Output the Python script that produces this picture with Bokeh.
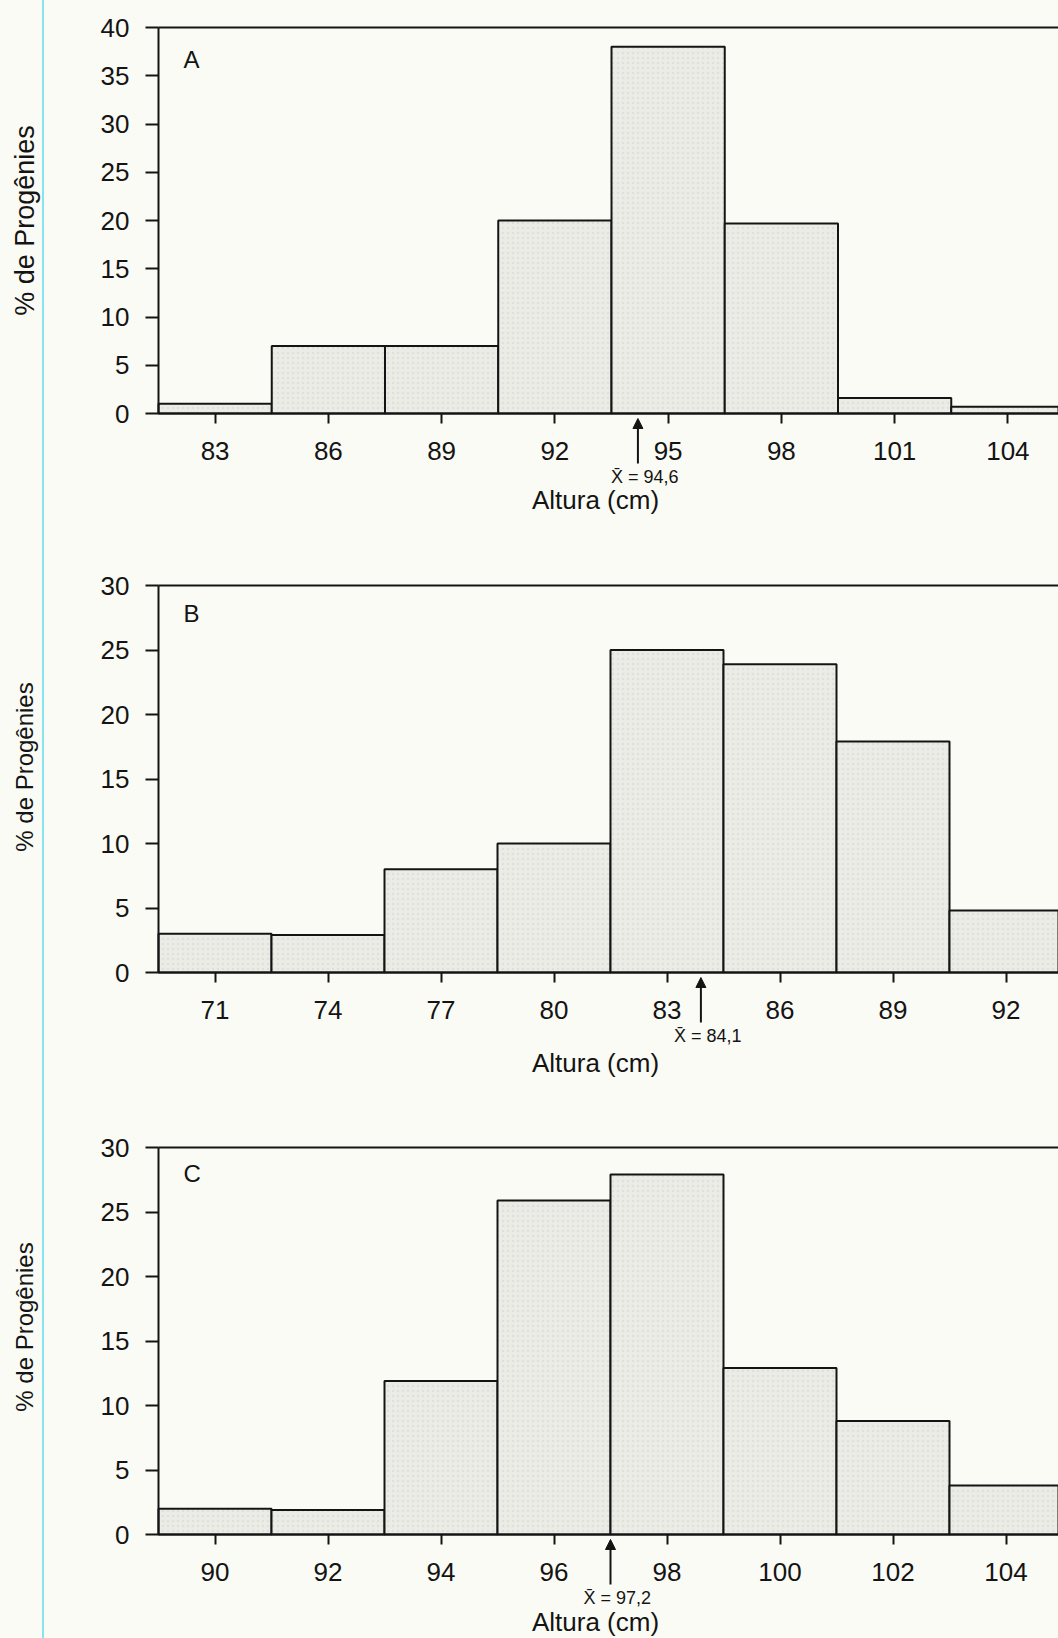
import math
from bokeh.plotting import figure
from bokeh.models import Range1d, FixedTicker, LinearAxis, Arrow, NormalHead, Label
from bokeh.layouts import column
from bokeh.embed import file_html
from bokeh.resources import INLINE

# ---------------- data ----------------
a_centers = [83, 86, 89, 92, 95, 98, 101, 104]
a_pct = [1, 7, 7, 20, 38, 19.7, 1.6, 0.7]
a_mean_pos = 94.2
a_mean_text = "X\u0304 = 94,6"

b_centers = [71, 74, 77, 80, 83, 86, 89, 92]
b_pct = [3, 2.9, 8, 10, 25, 23.9, 17.9, 4.8]
b_mean_pos = 83.9
b_mean_text = "X\u0304 = 84,1"

c_centers = [90, 92, 94, 96, 98, 100, 102, 104]
c_pct = [2, 1.9, 11.9, 25.9, 27.9, 12.9, 8.8, 3.8]
c_mean_pos = 97.0
c_mean_text = "X\u0304 = 97,2"

y_ticks_a = [0, 5, 10, 15, 20, 25, 30, 35, 40]
y_ticks_bc = [0, 5, 10, 15, 20, 25, 30]

letters = ["A", "B", "C"]
x_label = "Altura (cm)"
y_label = "% de Progênies"

# ---------------- style ----------------
INK = "#141414"
BAR = "#ecece6"
FONT = "Liberation Sans"
FIG_W = 1058
LEFT = 158           # page x of the y axis
FRAME_W = FIG_W - LEFT

panels = [
    dict(letter=letters[0], centers=a_centers, pct=a_pct, bw=3, xstart=81.5, step_px=113.25,
         ymax=40, yticks=y_ticks_a, mpos=a_mean_pos, mtext=a_mean_text,
         top=27, frame_h=386, bottom=153, letter_dy=18, ylab_dy=0, xlab_dy=86, ylab_fs="27px"),
    dict(letter=letters[1], centers=b_centers, pct=b_pct, bw=3, xstart=69.5, step_px=113.0,
         ymax=30, yticks=y_ticks_bc, mpos=b_mean_pos, mtext=b_mean_text,
         top=19, frame_h=387, bottom=156, letter_dy=14, ylab_dy=12, xlab_dy=90, ylab_fs="24px"),
    dict(letter=letters[2], centers=c_centers, pct=c_pct, bw=2, xstart=89.0, step_px=113.0,
         ymax=30, yticks=y_ticks_bc, mpos=c_mean_pos, mtext=c_mean_text,
         top=19, frame_h=387, bottom=104, letter_dy=12, ylab_dy=14, xlab_dy=87, ylab_fs="24px"),
]

figs = []
for pn in panels:
    ppu_x = pn["step_px"] / pn["bw"]
    ppu_y = pn["frame_h"] / pn["ymax"]
    xs = pn["xstart"]
    xend = xs + FRAME_W / ppu_x
    H = pn["top"] + pn["frame_h"] + pn["bottom"]
    p = figure(width=FIG_W, height=H, output_backend="svg", toolbar_location=None,
               x_range=Range1d(xs - LEFT / ppu_x, xend),
               y_range=Range1d(-pn["bottom"] / ppu_y, pn["ymax"] + pn["top"] / ppu_y),
               min_border_left=0, min_border_right=0, min_border_top=0, min_border_bottom=0)
    p.background_fill_color = None
    p.border_fill_color = None
    p.outline_line_color = None
    p.xgrid.visible = False
    p.ygrid.visible = False

    p.vbar(x=pn["centers"], top=pn["pct"], bottom=0, width=pn["bw"],
           fill_color=BAR, line_color=INK, line_width=2,
           hatch_pattern=".", hatch_color="#d9d9d2", hatch_scale=5, hatch_alpha=0.6)

    # y axis at the left edge of the histogram
    ya = p.yaxis[0]
    ya.fixed_location = xs
    ya.bounds = (0, pn["ymax"])
    ya.ticker = FixedTicker(ticks=pn["yticks"])
    ya.minor_tick_line_color = None
    ya.major_tick_out = 13
    ya.major_tick_in = 0
    ya.major_tick_line_width = 2
    ya.major_tick_line_color = INK
    ya.axis_line_width = 2
    ya.axis_line_color = INK
    ya.major_label_text_font = FONT
    ya.major_label_text_font_size = "26px"
    ya.major_label_text_color = INK
    ya.major_label_standoff = 16

    # x axis at y = 0
    xa = p.xaxis[0]
    xa.fixed_location = 0
    xa.bounds = (xs, xend)
    xa.ticker = FixedTicker(ticks=pn["centers"])
    xa.minor_tick_line_color = None
    xa.major_tick_out = 10
    xa.major_tick_in = 0
    xa.major_tick_line_width = 2
    xa.major_tick_line_color = INK
    xa.axis_line_width = 2
    xa.axis_line_color = INK
    xa.major_label_text_font = FONT
    xa.major_label_text_font_size = "26px"
    xa.major_label_text_color = INK
    xa.major_label_standoff = 18

    # top border line
    top_ax = LinearAxis(ticker=FixedTicker(ticks=[]), major_label_text_font_size="0px",
                        major_tick_out=0, major_tick_in=0, minor_tick_out=0, minor_tick_in=0,
                        major_label_standoff=0, axis_line_width=2, axis_line_color=INK,
                        fixed_location=pn["ymax"], bounds=(xs, xend))
    p.add_layout(top_ax, "above")

    # axis titles
    p.add_layout(Label(x=xs - (LEFT - 24) / ppu_x, y=pn["ymax"] / 2 + pn["ylab_dy"] / ppu_y,
                       text=y_label, angle=math.pi / 2, text_font=FONT, text_font_size=pn["ylab_fs"],
                       text_color=INK, text_align="center", text_baseline="middle"))
    p.add_layout(Label(x=xs + (595 - LEFT) / ppu_x, y=-pn["xlab_dy"] / ppu_y,
                       text=x_label, text_font=FONT, text_font_size="26px",
                       text_color=INK, text_align="center", text_baseline="middle"))

    # panel letter
    p.add_layout(Label(x=xs + 25 / ppu_x, y=pn["ymax"] - pn["letter_dy"] / ppu_y,
                       text=pn["letter"], text_font=FONT, text_font_size="24px", text_color=INK,
                       text_baseline="top", text_align="left"))

    # mean arrow and label
    p.add_layout(Arrow(end=NormalHead(size=10, fill_color=INK, line_color=INK, line_width=1),
                       x_start=pn["mpos"], y_start=-50 / ppu_y, x_end=pn["mpos"], y_end=-5 / ppu_y,
                       line_width=2, line_color=INK))
    p.add_layout(Label(x=pn["mpos"], y=-63 / ppu_y, text=pn["mtext"], x_offset=-27,
                       text_font=FONT, text_font_size="18px", text_color=INK,
                       text_baseline="middle", text_align="left"))
    figs.append(p)

layout = column(*figs, spacing=0, styles={
    "background": "linear-gradient(to right, #fbfbf5 42px, #86e3ef 42px, #86e3ef 44px, #fbfbf5 44px)"})

open("out.html", "w").write(file_html(layout, INLINE))
